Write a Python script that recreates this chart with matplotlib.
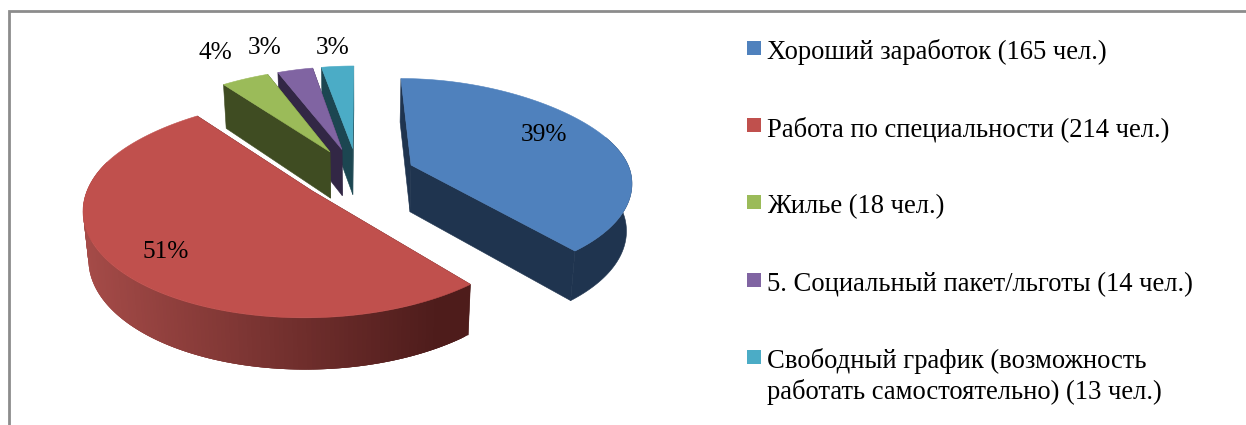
# plot.py - exploded 3D pie drawn by hand on a pixel-sized axes
import numpy as np
import matplotlib
matplotlib.use("Agg")
import matplotlib.pyplot as plt
from matplotlib.colors import to_rgb
from matplotlib.patches import Polygon, Rectangle

plt.rcParams['font.family'] = ['Liberation Serif', 'DejaVu Serif']

# ---------------------------
# Data
# ---------------------------
labels = ["Хороший заработок (165 чел.)",
          "Работа по специальности (214 чел.)",
          "Жилье (18 чел.)",
          "5. Социальный пакет/льготы (14 чел.)",
          "Свободный график (возможность\nработать самостоятельно) (13 чел.)"]
values = [165, 214, 18, 14, 13]
pct_labels = ["39%", "51%", "4%", "3%", "3%"]

# ---------------------------
# Styles and layout
# ---------------------------
top_colors = ["#4F81BD", "#C0504D", "#9BBB59", "#8064A2", "#4BACC6"]
side_colors = ["#1F344F", "#4E1C1B", "#3F4C22", "#322745", "#1C4651"]
red_side_left = "#A54B48"   # left end of the gradient on the big slice

pct_pos = [(544, 135), (166, 252), (215, 53), (265, 48), (333, 48)]
legend_y = [48, 125, 202, 280, 357]
LINE_H = 31

# Pie projection: circle in the plane, then perspective
CX, CY = 358.0, 174.0
A, B = 220.0, 102.0
PERSP = 0.15
PERSP_BACK = 0.075   # extra narrowing of the far half in x
EXPLODE = 0.26
DEPTH = 47.0
BOTTOM_SHRINK = 0.98  # the bottom face is a bit further from the viewer


def project(theta, r, bisector):
    """theta is clockwise from 12 o'clock; returns pixel x, y, bottom x and bottom y."""
    u = r * np.sin(theta) + EXPLODE * np.sin(bisector)
    v = r * np.cos(theta) + EXPLODE * np.cos(bisector)
    w = 1.0 / (1.0 + PERSP * v)
    wx = 1.0 / (1.0 + PERSP * v + PERSP_BACK * np.maximum(v, 0) ** 2)
    x = CX + A * u * wx
    y = CY - B * v * w
    return x, y, CX + (x - CX) * BOTTOM_SHRINK, y + DEPTH * np.sqrt(w)


def face(ax, pts, color):
    ax.add_patch(Polygon(pts, closed=True, facecolor=color, edgecolor=color, linewidth=0.4))


fig = plt.figure(figsize=(12.46, 4.25), dpi=100)
ax = fig.add_axes([0, 0, 1, 1])
ax.set_xlim(0, 1246)
ax.set_ylim(425, 0)
ax.axis("off")

# Frame: only the top and left edges show up
ax.plot([8.5, 8.5, 1246], [425, 11, 11], color="#8C8C8C", linewidth=2.0,
        solid_joinstyle="miter")

angles = np.concatenate([[0], np.cumsum(values)]) / sum(values) * 2 * np.pi
c_left, c_right = np.array(to_rgb(red_side_left)), np.array(to_rgb(side_colors[1]))

# Painter's order: back slices first, big front slices last
for i in [4, 3, 2, 0, 1]:
    t0, t1 = angles[i], angles[i + 1]
    bis = (t0 + t1) / 2
    th = np.linspace(t0, t1, 181)
    xs, ys, xb, yb = project(th, 1.0, bis)
    px, py, pxb, pyb = project(t0, 0.0, bis)

    # Straight cut faces
    for t in (t0, t1):
        ex, ey, exb, eyb = project(t, 1.0, bis)
        face(ax, [(px, py), (ex, ey), (exb, eyb), (pxb, pyb)], side_colors[i])

    # Rim, only the part that faces the viewer
    front = np.where(np.cos(th) <= 0.3)[0]
    if len(front) > 1:
        if i == 1:
            # strips overlap the next one so no seams show through
            for k in front[:-1]:
                m = min(k + 3, front[-1])
                f = np.clip((xs[k] - 85) / (440 - 85), 0, 1)
                color = tuple(c_left + (c_right - c_left) * f)
                strip = list(zip(xs[k:m + 1], ys[k:m + 1])) + \
                    list(zip(xb[k:m + 1][::-1], yb[k:m + 1][::-1]))
                ax.add_patch(Polygon(strip, closed=True, facecolor=color, edgecolor="none"))
        else:
            rim = list(zip(xs[front], ys[front])) + \
                list(zip(xb[front][::-1], yb[front][::-1]))
            face(ax, rim, side_colors[i])

    # Top surface
    face(ax, [(px, py)] + list(zip(xs, ys)), top_colors[i])

for txt, (x, y) in zip(pct_labels, pct_pos):
    ax.text(x, y, txt, ha="center", va="center", fontsize=18.3, color="black")

# Legend
for lab, col, y in zip(labels, top_colors, legend_y):
    ax.add_patch(Rectangle((747, y - 7), 14, 14, facecolor=col, edgecolor="none"))
    for n, line in enumerate(lab.split("\n")):
        ax.text(767, y + 11 + n * LINE_H, line, ha="left", va="baseline",
                fontsize=19.2, color="black")

fig.savefig("out.png", dpi=100)
